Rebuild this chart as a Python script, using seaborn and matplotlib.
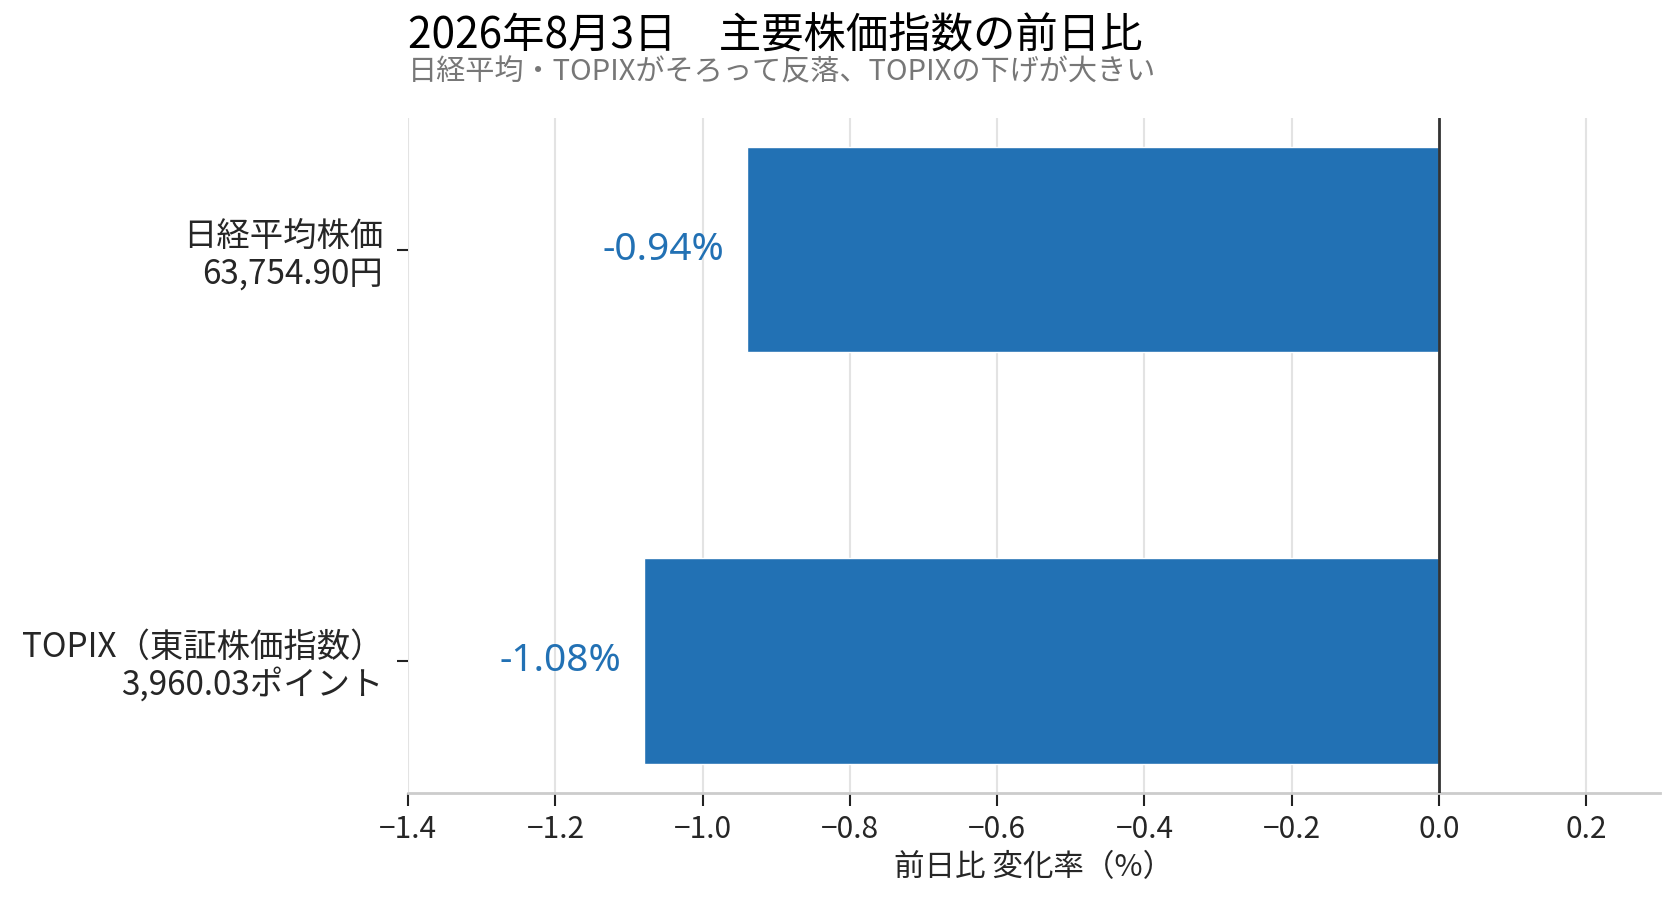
import matplotlib
matplotlib.use("Agg")
import matplotlib.pyplot as plt
import seaborn as sns
import pandas as pd

# Data
categories = ["日経平均株価\n63,754.90円", "TOPIX（東証株価指数）\n3,960.03ポイント"]
changes = [-0.94, -1.08]
bar_labels = ["-0.94%", "-1.08%"]
xticks = [-1.4, -1.2, -1.0, -0.8, -0.6, -0.4, -0.2, 0.0, 0.2]
title = "2026年8月3日　主要株価指数の前日比"
subtitle = "日経平均・TOPIXがそろって反落、TOPIXの下げが大きい"
xlabel = "前日比 変化率（%）"

sns.set_theme(style="white")
plt.rcParams['font.family'] = ['Noto Sans CJK JP', 'DejaVu Sans']
plt.rcParams['axes.unicode_minus'] = True

BLUE = "#2271b4"
df = pd.DataFrame({"index": categories, "change": changes})

fig = plt.figure(figsize=(16.8, 8.99), dpi=100)
ax = fig.add_axes([0.243, 0.118, 0.745, 0.751])

sns.barplot(data=df, x="change", y="index", orient="h", color=BLUE,
            saturation=1, width=0.5, ax=ax)

ax.set_xlim(-1.4, 0.3)
ax.set_ylim(1.32, -0.32)
ax.set_xticks(xticks)
ax.set_xticklabels([f"{t:.1f}".replace("-", "\u2212") for t in xticks])
ax.grid(axis="x", color="#e3e3e3", linewidth=1.5)
ax.grid(axis="y", visible=False)
ax.set_axisbelow(True)
ax.axvline(0, color="#333333", linewidth=2, zorder=3)

for s in ["top", "right", "left"]:
    ax.spines[s].set_visible(False)
ax.spines["bottom"].set_color("#cccccc")
ax.spines["bottom"].set_linewidth(2)

ax.tick_params(axis="x", which="major", bottom=True, length=9, width=1.5,
               color="#222222", labelsize=21.5, pad=6)
ax.tick_params(axis="y", which="major", left=True, length=8, width=1.5,
               color="#222222", labelsize=24, pad=10)
for lab in ax.get_yticklabels():
    lab.set_horizontalalignment("right")
    lab.set_multialignment("right")
    lab.set_linespacing(1.1)

ax.set_ylabel("")
ax.set_xlabel(xlabel, fontsize=22, labelpad=5)

for i, (v, t) in enumerate(zip(changes, bar_labels)):
    ax.annotate(t, xy=(v, i), xytext=(-16, 0), textcoords="offset points",
                ha="right", va="center", fontsize=28, color=BLUE,
                family=['Noto Sans', 'DejaVu Sans'])

fig.text(0.243, 0.946, title, fontsize=30.5, ha="left", va="baseline", color="black")
fig.text(0.243, 0.911, subtitle, fontsize=21, ha="left", va="baseline", color="#777777")

fig.savefig("out.png", dpi=100)
